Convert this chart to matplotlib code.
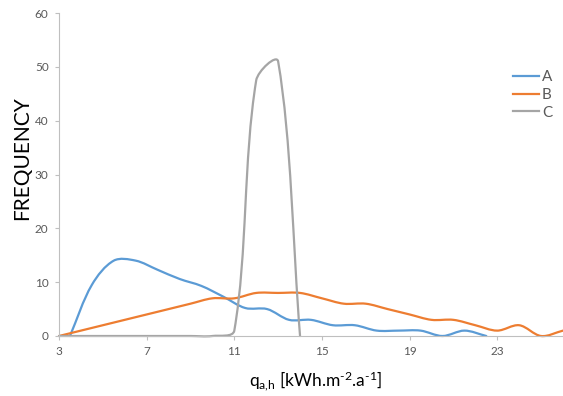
import numpy as np
import matplotlib
matplotlib.use("Agg")
import matplotlib.pyplot as plt
from matplotlib.path import Path
from matplotlib.patches import PathPatch

plt.rcParams['font.family'] = ['Lato', 'DejaVu Sans']
plt.rcParams['mathtext.fontset'] = 'custom'
plt.rcParams['mathtext.rm'] = 'Lato'
plt.rcParams['mathtext.it'] = 'Lato:italic'
plt.rcParams['mathtext.default'] = 'regular'

# data
x_a = [3.5, 4.5, 5.5, 6.5, 7.5, 8.5, 9.5, 10.5, 11.5, 12.5, 13.5, 14.5,
       15.5, 16.5, 17.5, 18.5, 19.5, 20.5, 21.5, 22.5]
freq_a = [0, 9.5, 14, 14, 12.3, 10.6, 9.3, 7.3, 5.2, 5, 3, 3,
          2, 2, 1, 1, 1, 0, 1, 0]

x_b = list(range(3, 27))
freq_b = [0, 1, 2, 3, 4, 5, 6, 7, 7, 8, 8, 8, 7, 6, 6, 5, 4, 3, 3, 2, 1, 2, 0, 1]

x_c = list(range(3, 15))
freq_c = [0, 0, 0, 0, 0, 0, 0, 0, 1, 47.5, 51, 0]

series = [("A", x_a, freq_a, "#5B9BD5"),
          ("B", x_b, freq_b, "#ED7D31"),
          ("C", x_c, freq_c, "#A5A5A5")]

x_ticks = [3, 7, 11, 15, 19, 23]
y_ticks = [0, 10, 20, 30, 40, 50, 60]

fig = plt.figure(figsize=(5.63, 3.96), dpi=100)
ax = fig.add_axes([59 / 563, 60 / 396, 504 / 563, 323 / 396])
ax.set_xlim(3, 26)
ax.set_ylim(0, 60)


def smooth_path(ax, x, y, k=1 / 3):
    # excel-like smoothed line, built in screen space then mapped back to data
    pts = ax.transData.transform(np.column_stack([x, y]))
    n = len(pts)
    verts = [pts[0]]
    codes = [Path.MOVETO]
    for i in range(n - 1):
        p0 = pts[i - 1] if i > 0 else pts[i]
        p1 = pts[i]
        p2 = pts[i + 1]
        p3 = pts[i + 2] if i + 2 < n else pts[i + 1]
        l01 = np.hypot(*(p1 - p0))
        l12 = np.hypot(*(p2 - p1))
        l23 = np.hypot(*(p3 - p2))
        c1 = p1 + (p2 - p0) * (l12 / (l01 + l12)) * k if l01 + l12 > 0 else p1
        c2 = p2 - (p3 - p1) * (l12 / (l12 + l23)) * k if l12 + l23 > 0 else p2
        verts += [c1, c2, p2]
        codes += [Path.CURVE4] * 3
    verts = ax.transData.inverted().transform(np.array(verts))
    return Path(verts, codes)


for name, xs, ys, col in series:
    patch = PathPatch(smooth_path(ax, xs, ys), facecolor='none', edgecolor=col,
                      lw=1.6, clip_on=False, capstyle='round', joinstyle='round')
    ax.add_patch(patch)
    ax.plot([], [], color=col, lw=1.6, label=name)

ax.set_xticks(x_ticks)
ax.set_yticks(y_ticks)
for s in ['top', 'right']:
    ax.spines[s].set_visible(False)
for s in ['left', 'bottom']:
    ax.spines[s].set_color('#BFBFBF')
    ax.spines[s].set_linewidth(0.8)
ax.tick_params(axis='both', colors='#BFBFBF', labelcolor='#595959',
               labelsize=8.5, length=3, width=0.8)
ax.tick_params(axis='y', pad=4.5)
ax.tick_params(axis='x', pad=4.5)

fig.text(22 / 563, 1 - 158 / 396, 'FREQUENCY', rotation=90, fontsize=15,
         ha='center', va='center', color='#000000')
fig.text(316 / 563, 1 - 381 / 396,
         r'q$_{\text{a,h}}$ [kWh.m$^{\text{-2}}$.a$^{\text{-1}}$]', fontsize=12.5,
         ha='center', va='center', color='#000000')

fig.legend(loc='center left', bbox_to_anchor=(513 / 563, 1 - 95 / 396),
           frameon=False, fontsize=11, labelcolor='#595959', borderpad=0,
           borderaxespad=0, handlelength=1.7, handletextpad=0.2,
           labelspacing=0.24)

fig.savefig('out.png', dpi=100)
